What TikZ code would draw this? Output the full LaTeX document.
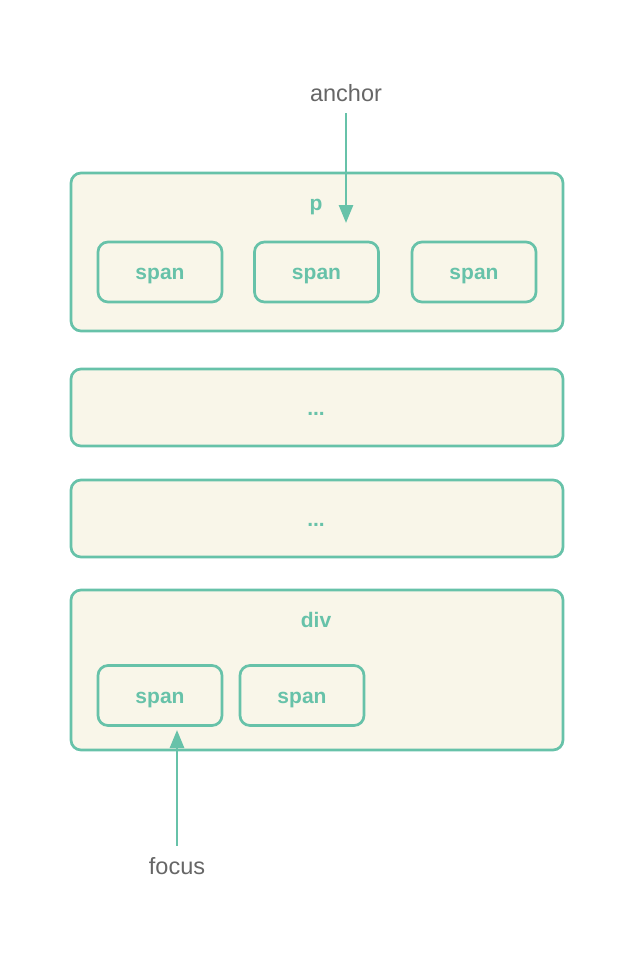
\documentclass[tikz,border=0pt]{standalone}
\usepackage{fontspec}
\setmainfont{Liberation Sans}
\usetikzlibrary{arrows.meta}
\definecolor{edgegreen}{HTML}{67C2A9}
\definecolor{boxfill}{HTML}{F9F6E9}
\definecolor{labelgrey}{HTML}{666666}

\begin{document}
\begin{tikzpicture}[x=1pt, y=-1pt,
      block/.style={draw=edgegreen, fill=boxfill, line width=2.7pt, rounded corners=10pt,
        minimum width=492pt, minimum height=#1, inner sep=0pt},
      spanbox/.style={draw=edgegreen, line width=2.7pt, rounded corners=10pt,
        minimum width=124pt, minimum height=60pt, inner sep=0pt,
        text height=15pt, text depth=0pt,
        text=edgegreen, font=\fontsize{21}{25}\selectfont\bfseries},
      tag/.style={text=edgegreen, inner sep=0pt, text height=12pt, text depth=0pt,
        font=\fontsize{21}{25}\selectfont\bfseries},
      pointer/.style={text=labelgrey, font=\fontsize{23.5}{28}\selectfont},
      arrow/.style={draw=edgegreen, line width=2.7pt, -{Triangle[width=14pt,length=18pt]}}]
    \useasboundingbox (0,0) rectangle (634,956);
    % outer blocks
    \node[block=158pt] (pblock) at (317,252) {};
    \node[block=77pt] (dots1) at (317,407.5) {};
    \node[block=77pt] (dots2) at (317,518.5) {};
    \node[block=160pt] (divblock) at (317,670) {};
    \node[tag] (ptag) at (316,204) {p};
    \node[tag] (dots1tag) at (316,409.5) {...};
    \node[tag] (dots2tag) at (316,520.5) {...};
    \node[tag] (divtag) at (316,621.5) {div};
    % spans
    \node[spanbox] (pspan1) at (160,272) {span};
    \node[spanbox] (pspan2) at (316.5,272) {span};
    \node[spanbox] (pspan3) at (474,272) {span};
    \node[spanbox] (divspan1) at (160,695.5) {span};
    \node[spanbox] (divspan2) at (302,695.5) {span};
    % pointers
    \node[pointer] (anchor) at (346,93) {anchor};
    \node[pointer] (focus) at (177,866) {focus};
    \coordinate (anchortip) at (346,223);
    \coordinate (focustip) at (177,730);
    \draw[arrow, shorten <=8pt] (anchor) -- (anchortip);
    \draw[arrow, shorten <=8pt] (focus) -- (focustip);
\end{tikzpicture}
\end{document}
